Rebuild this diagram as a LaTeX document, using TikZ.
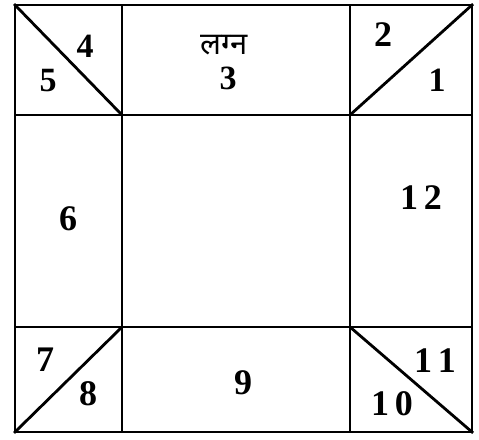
\documentclass[tikz,border=0pt]{standalone}
\usepackage{fontspec}
\setmainfont{Liberation Serif}
\newfontfamily\devfont[Script=Devanagari]{Noto Sans}
\begin{document}
\begin{tikzpicture}[x=1pt,y=-1pt,
  grid/.style={line width=2.8pt,line cap=rect},
  num/.style={font=\fontsize{36}{36}\selectfont\bfseries,inner sep=0pt},
  nummid/.style={font=\fontsize{34}{34}\selectfont\bfseries,inner sep=0pt}]
\useasboundingbox (0,0) rectangle (479,439);
% corners of frame and inner lines
\coordinate (TL) at (15,5);
\coordinate (TR) at (472,5);
\coordinate (BL) at (15,432);
\coordinate (BR) at (472,432);
\coordinate (iTL) at (122,115);
\coordinate (iTR) at (350,115);
\coordinate (iBL) at (122,327);
\coordinate (iBR) at (350,327);
\coordinate (lT) at (15,115);
\coordinate (lB) at (15,327);
\coordinate (rT) at (472,115);
\coordinate (rB) at (472,327);
\coordinate (tL) at (122,5);
\coordinate (tR) at (350,5);
\coordinate (bL) at (122,432);
\coordinate (bR) at (350,432);
\draw[grid] (TL) rectangle (BR);
\draw[grid] (tL) -- (bL);
\draw[grid] (tR) -- (bR);
\draw[grid] (lT) -- (rT);
\draw[grid] (lB) -- (rB);
\draw[grid] (TL) -- (iTL);
\draw[grid] (TR) -- (iTR);
\draw[grid] (BL) -- (iBL);
\draw[grid] (BR) -- (iBR);
% labels
\node[nummid] (n4) at (85,46) {4};
\node[nummid] (n5) at (48,81) {5};
\node[inner sep=0pt,font=\devfont\fontsize{31}{31}\selectfont\bfseries] (lagna) at (224,45) {लग्न};
\node[nummid] (n3) at (228,78) {3};
\node[num] (n2) at (383,35) {2};
\node[nummid] (n1) at (437,80) {1};
\node[num] (n6) at (68,219) {6};
\node[num] (n12) at (421,198) {1\,2};
\node[num] (n7) at (45,360) {7};
\node[num] (n8) at (88,394) {8};
\node[num] (n9) at (243,383) {9};
\node[num] (n11) at (435,361) {1\,1};
\node[num] (n10) at (392,404) {1\,0};
\end{tikzpicture}
\end{document}
